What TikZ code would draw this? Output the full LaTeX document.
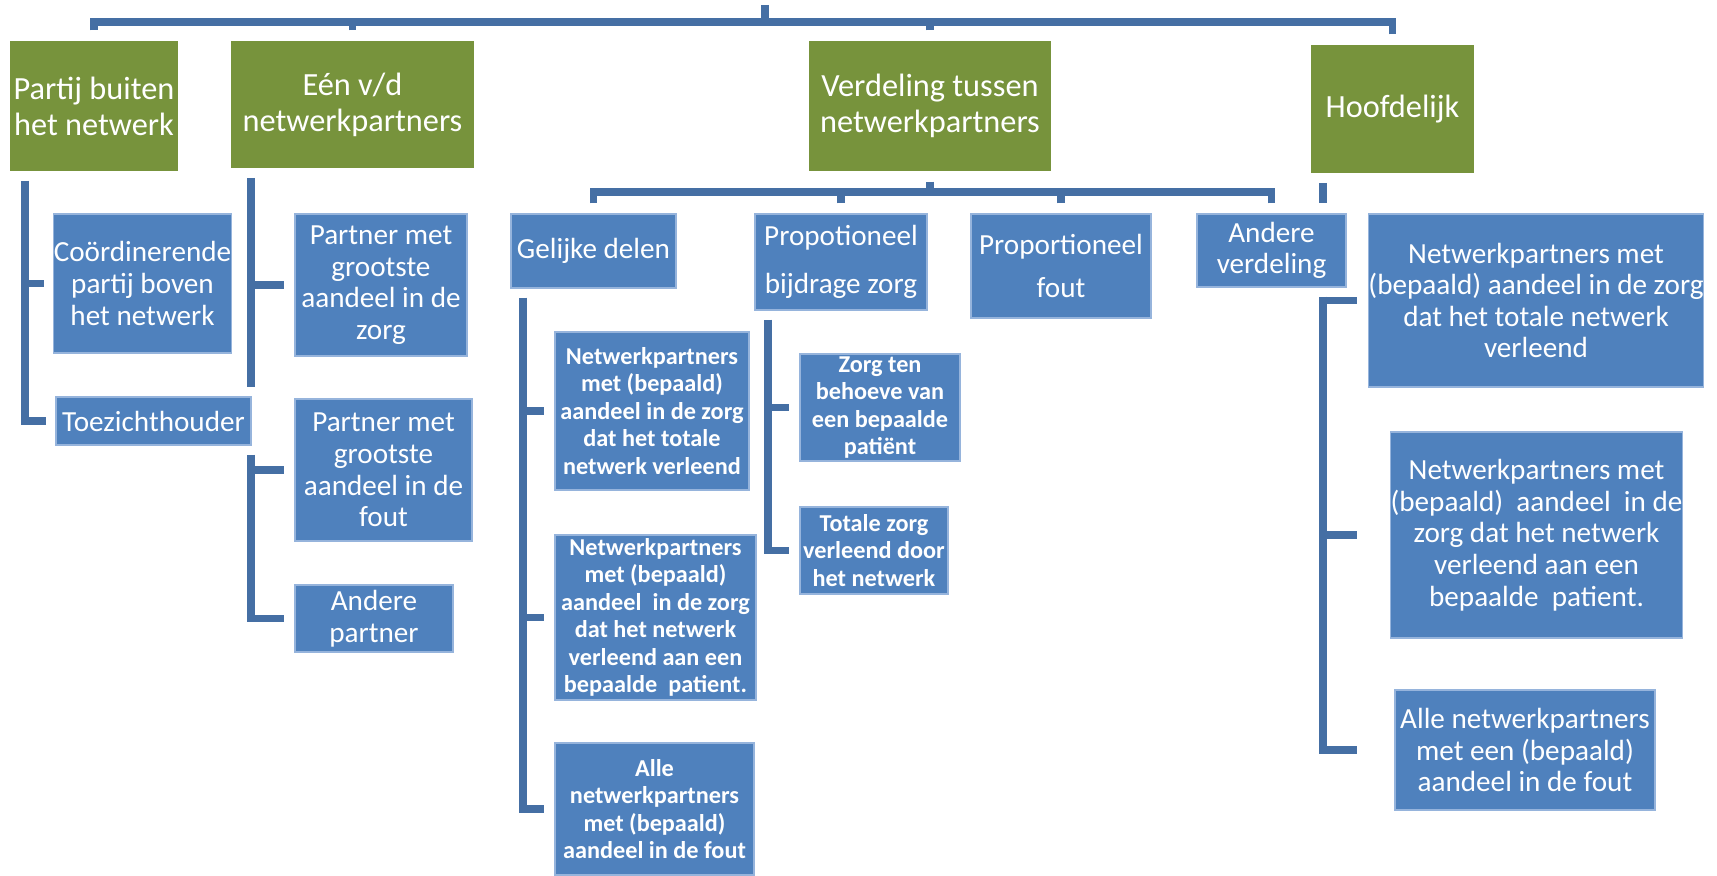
\documentclass[tikz,border=0pt]{standalone}
\usepackage{fontspec}
\setmainfont{Carlito}
\usetikzlibrary{backgrounds}

\definecolor{kopgroen}{RGB}{119,147,60}
\definecolor{vakblauw}{RGB}{79,129,189}
\definecolor{lijnblauw}{RGB}{69,111,164}
\definecolor{randblauw}{RGB}{150,180,220}

\begin{document}
\begin{tikzpicture}
[
    x=1mm, y=-1mm,
    kop/.style={fill=kopgroen, text=white, inner sep=0pt, align=center,
        font=\fontsize{9.2}{10.2}\selectfont},
    vak/.style={fill=vakblauw, draw=randblauw, line width=0.3pt, text=white,
        inner sep=0pt, align=center, font=\fontsize{8.3}{9}\selectfont},
    vakje/.style={vak, font=\fontsize{6.9}{7.8}\selectfont\bfseries},
    link/.style={draw=lijnblauw, line width=0.75mm},
    maat/.style 2 args={minimum width=#1mm, minimum height=#2mm}
]
    \useasboundingbox (0,0) rectangle (171.7,87.6);

    % bovenste rij
    \node [kop, maat={16.8}{13.0}] (part) at (9.4,10.6) {Partij buiten\\het netwerk};
    \node [kop, maat={24.3}{12.7}] (een) at (35.25,10.45) {Eén v/d\\netwerkpartners};
    \node [kop, maat={24.2}{13.0}] (verd) at (93.0,10.6) {Verdeling tussen\\netwerkpartners};
    \node [kop, maat={16.3}{12.8}] (hoofd) at (139.25,10.9) {Hoofdelijk};

    % partij buiten het netwerk
    \node [vak, maat={17.3}{13.9}] (coord) at (14.25,28.35) {Coördinerende\\partij boven\\het netwerk};
    \node [vak, maat={19.5}{4.8}] (toez) at (15.35,42.1) {Toezichthouder};

    % een van de netwerkpartners
    \node [vak, maat={17.2}{14.2}] (pzorg) at (38.1,28.5) {Partner met\\grootste\\aandeel in de\\zorg};
    \node [vak, maat={17.7}{14.2}] (pfout) at (38.35,47.0) {Partner met\\grootste\\aandeel in de\\fout};
    \node [vak, maat={15.8}{6.7}] (andp) at (37.4,61.85) {Andere\\partner};

    % verdeling tussen netwerkpartners
    \node [vak, maat={16.5}{7.4}] (gel) at (59.35,25.1) {Gelijke delen};
    \node [vak, maat={17.2}{9.6}] (prop1) at (84.1,26.2) {Propotioneel\\[4.5pt]bijdrage zorg};
    \node [vak, maat={18.0}{10.4}] (prop2) at (106.1,26.6) {Proportioneel\\[3.5pt]fout};
    \node [vak, maat={14.9}{7.3}] (andv) at (127.15,25.05) {Andere\\verdeling};

    \node [vakje, maat={19.4}{15.8}] (g1) at (65.2,41.1)
        {Netwerkpartners\\met (bepaald)\\aandeel in de zorg\\dat het totale\\netwerk verleend};
    \node [vakje, maat={20.1}{16.5}] (g2) at (65.55,61.75)
        {Netwerkpartners\\met (bepaald)\\aandeel\ \ in de zorg\\dat het netwerk\\verleend aan een\\bepaalde\ \ patient.};
    \node [vakje, maat={19.9}{13.2}] (g3) at (65.45,80.9)
        {Alle\\netwerkpartners\\met (bepaald)\\aandeel in de fout};

    \node [vakje, maat={16.0}{10.7}] (z1) at (88.0,40.75) {Zorg ten\\behoeve van\\een bepaalde\\patiënt};
    \node [vakje, maat={14.8}{8.7}] (z2) at (87.4,55.05) {Totale zorg\\verleend door\\het netwerk};

    % hoofdelijk
    \node [vak, maat={33.2}{17.3}] (r1) at (153.6,30.05)
        {Netwerkpartners met\\(bepaald) aandeel in de zorg\\dat het totale netwerk\\verleend};
    \node [vak, maat={28.3}{20.6}] (r2) at (153.65,53.5)
        {Netwerkpartners met\\(bepaald)\ \ aandeel\ \ in de\\zorg dat het netwerk\\verleend aan een\\bepaalde\ \ patient.};
    \node [vak, maat={26.0}{12.0}] (r3) at (152.5,75.0)
        {Alle netwerkpartners\\met een (bepaald)\\aandeel in de fout};

    \begin{scope}[on background layer]
        % bovenste balk
        \coordinate (wortel) at (76.5,0.5);
        \coordinate (balk) at (76.5,2.2);
        \draw [link] (wortel) -- (balk);
        \draw [link, shorten <=1mm] (part.north) |- (balk);
        \draw [link, shorten <=1mm] (hoofd.north) |- (balk);
        \draw [link, shorten <=1mm] (een.north) -- (een.north |- balk);
        \draw [link, shorten <=1mm] (verd.north) -- (verd.north |- balk);

        % balk onder verdeling
        \coordinate (vbalk) at (93.0,19.2);
        \draw [link, shorten <=1mm] (verd.south) -- (vbalk);
        \draw [link, shorten <=1mm] (gel.north) |- (vbalk);
        \draw [link, shorten <=1mm] (andv.north) |- (vbalk);
        \draw [link, shorten <=1mm] (prop1.north) -- (prop1.north |- vbalk);
        \draw [link, shorten <=1mm] (prop2.north) -- (prop2.north |- vbalk);

        % partij buiten het netwerk
        \coordinate (ptop) at (2.5,18.1);
        \draw [link, shorten >=0.9mm] (ptop) |- (coord.west);
        \draw [link, shorten >=0.9mm] (ptop) |- (toez.west);

        % een van de netwerkpartners
        \coordinate (etop) at (25.1,17.8);
        \coordinate (eeind) at (25.1,38.7);
        \draw [link] (etop) -- (eeind);
        \draw [link, shorten >=1mm] (etop |- pzorg.west) -- (pzorg.west);
        \coordinate (etop2) at (25.1,45.5);
        \draw [link, shorten >=1mm] (etop2) |- (pfout.west);
        \draw [link, shorten >=1mm] (etop2) |- (andp.west);

        % gelijke delen
        \coordinate (gtop) at (52.3,29.8);
        \draw [link, shorten >=1mm] (gtop) |- (g1.west);
        \draw [link, shorten >=1mm] (gtop) |- (g2.west);
        \draw [link, shorten >=1mm] (gtop) |- (g3.west);

        % propotioneel bijdrage zorg
        \coordinate (qtop) at (76.8,32.0);
        \draw [link, shorten >=1mm] (qtop) |- (z1.west);
        \draw [link, shorten >=1mm] (qtop) |- (z2.west);

        % hoofdelijk: los stompje, dan de lijn onder andere verdeling
        \coordinate (hstomp) at (132.3,18.3);
        \draw [link] (hstomp) -- ++(0,2.0);
        \coordinate (htop) at (132.3,29.7);
        \coordinate (heind) at (135.7,0);
        \draw [link] (htop) |- (r1.west -| heind);
        \draw [link] (htop) |- (r2.west -| heind);
        \draw [link] (htop) |- (r3.west -| heind);
    \end{scope}
\end{tikzpicture}
\end{document}
